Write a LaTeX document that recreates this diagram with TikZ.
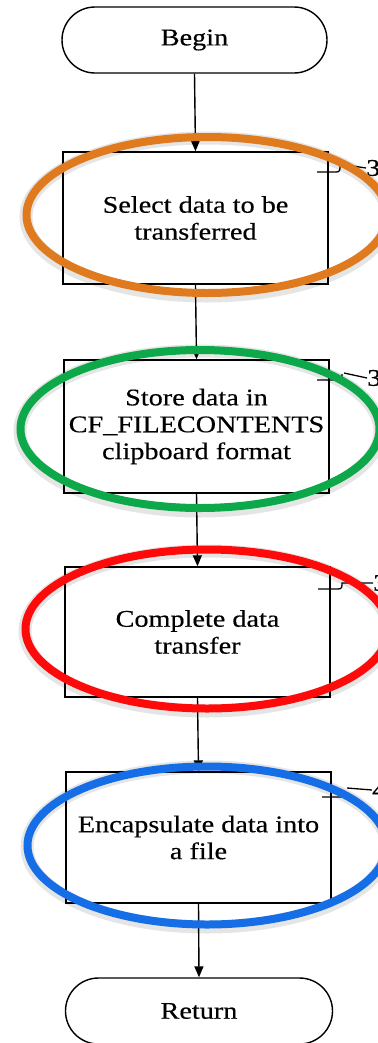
\documentclass[tikz,border=0pt]{standalone}
\usepackage{fontspec}
\setmainfont[FakeStretch=1.18,FakeBold=0.4]{Liberation Serif}
\usetikzlibrary{shapes.misc,arrows.meta}
\definecolor{cOrange}{HTML}{E07A1F}
\definecolor{cGreen}{HTML}{0DA84A}
\definecolor{cRed}{HTML}{FF0A0A}
\definecolor{cBlue}{HTML}{166EE6}
\begin{document}
\begin{tikzpicture}[x=1bp,y=-1bp,
  txt/.style={font=\fontsize{24}{27}\selectfont},
  box/.style={draw,line width=1.4bp,minimum width=265bp,align=center,inner sep=0pt,txt},
  term/.style={draw,rounded rectangle,line width=1.4bp,minimum width=265bp,minimum height=66bp,inner sep=0pt,txt},
  flow/.style={line width=1.4bp,-{Triangle[length=11bp,width=9bp]}},
  lead/.style={line width=1.3bp},
  refnum/.style={anchor=west,inner sep=0pt,txt},
  hl/.style={line width=8bp},
  hlshadow/.style={line width=13bp,black,opacity=0.10}
]
\useasboundingbox (0,0) rectangle (377,1043);
\fill[white] (0,0) rectangle (377,1043);

\node[term] (begin) at (194.5,40) {Begin};
\node[box,minimum height=132bp] (s1) at (195.5,218) {Select data to be\\transferred};
\node[box,minimum height=133bp] (s2) at (196.5,426.5) {Store data in\\CF\_FILECONTENTS\\clipboard format};
\node[box,minimum height=130bp] (s3) at (197.5,632) {Complete data\\transfer};
\node[box,minimum height=131bp] (s4) at (198.5,837.5) {Encapsulate data into\\a file};
\node[term,minimum width=267bp] (ret) at (199,1011) {Return};

\draw[flow] (begin.south) -- (s1.north);
\draw[flow] (s1.south) -- (s2.north);
\draw[flow] (s2.south) -- (s3.north);
\draw[flow] (s3.south) -- (s4.north);
\draw[flow] (s4.south) -- (ret.north);

% reference numeral leaders
\coordinate (l1) at (317,172);
\node[refnum] (n1) at (366,168) {3};
\draw[lead] (l1) -- ++(19,0) .. controls +(4,0) and +(0,4) .. ++(4,-6) -- ++(0,-1);
\draw[lead] (346,165) -- (n1.west);

\coordinate (l2) at (317,380);
\node[refnum] (n2) at (367,378) {3};
\draw[lead] (l2) -- ++(21,0) .. controls +(4,0) and +(0,4) .. ++(4,-6);
\draw[lead] (344,373) -- (n2.west);

\coordinate (l3) at (318,589);
\node[refnum] (n3) at (373,583) {3};
\draw[lead] (l3) -- ++(20,0) .. controls +(4,0) and +(0,4) .. ++(4,-6) -- (n3.west);

\coordinate (l4) at (322,797);
\node[refnum] (n4) at (372,790) {4};
\draw[lead] (l4) -- ++(19,0) .. controls +(4,0) and +(0,4) .. ++(4,-6);
\draw[lead] (347,788) -- (n4.west);

% highlight ellipses
\draw[hlshadow] (207,217) ellipse [x radius=181bp, y radius=79bp];
\draw[hl,cOrange] (207,215) ellipse [x radius=180.5bp, y radius=78bp];
\draw[hlshadow] (200,431) ellipse [x radius=180bp, y radius=80bp];
\draw[hl,cGreen] (200,429) ellipse [x radius=179.5bp, y radius=79bp];
\draw[hlshadow] (207,631) ellipse [x radius=182bp, y radius=80bp];
\draw[hl,cRed] (207,629) ellipse [x radius=181.5bp, y radius=79.5bp];
\draw[hlshadow] (207,847) ellipse [x radius=180bp, y radius=80bp];
\draw[hl,cBlue] (207,845.5) ellipse [x radius=179.5bp, y radius=79bp];
\end{tikzpicture}
\end{document}
